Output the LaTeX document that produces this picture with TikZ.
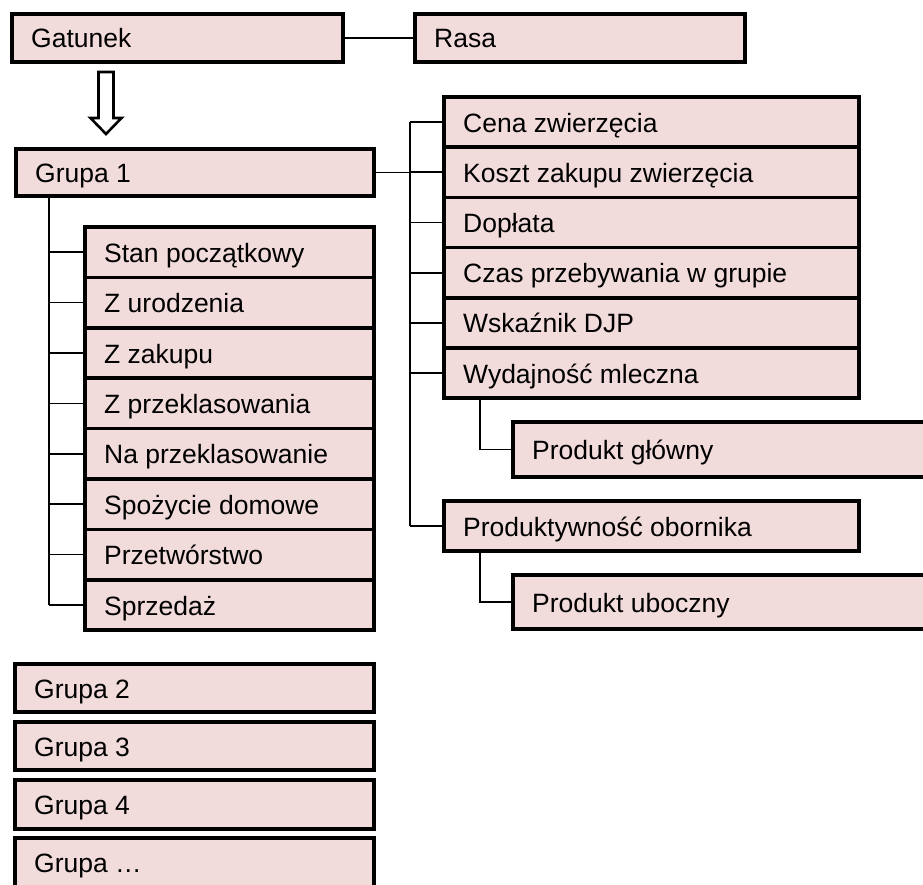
\documentclass[tikz,border=0pt]{standalone}
\usepackage{fontspec}
\setmainfont{Liberation Sans}
\definecolor{cellfill}{HTML}{F2DCDB}
\tikzset{
  cell/.style={draw=black, fill=cellfill, line width=3.6pt, rectangle,
    anchor=north west, outer sep=0pt, inner sep=0pt},
  celltext/.style={anchor=base west, inner sep=0pt,
    font=\fontsize{26.5}{30}\selectfont},
  wire/.style={draw=black, line width=1.6pt},
  hollowarrow/.style={draw=black, fill=white, line width=2.6pt, line join=miter}
}
% a box with its label set flush left: name, corner, width, height, text
\newcommand{\drawcell}[5]{%
  \node[cell, minimum width=#3pt, minimum height=#4pt] (#1) at (#2) {};
  \node[celltext] (#1-t) at ([xshift=19pt,yshift=-10pt]#1.west) {#5};
}
\begin{document}
\begin{tikzpicture}[x=1pt,y=-1pt]
\useasboundingbox (0,0) rectangle (923,885);
\clip (0,0) rectangle (923,885);

% top row
\drawcell{gat}{12,14}{331}{48}{Gatunek}
\drawcell{rasa}{415,14}{330}{48}{Rasa}
\draw[wire] (gat.east) -- (rasa.west);

% block arrow down to the first group
\draw[hollowarrow] (98.5,72) -- (113.5,72) -- (113.5,118) -- (121.5,118)
  -- (106,134) -- (90.5,118) -- (98.5,118) -- cycle;

\drawcell{g1}{16,149}{358}{47}{Grupa 1}

% left column: flows of the group
\drawcell{stan}{85,227.0}{289}{50.4}{Stan początkowy}
\drawcell{urod}{85,277.4}{289}{50.4}{Z urodzenia}
\drawcell{zak}{85,327.8}{289}{50.4}{Z zakupu}
\drawcell{zprz}{85,378.2}{289}{50.4}{Z przeklasowania}
\drawcell{naprz}{85,428.6}{289}{50.4}{Na przeklasowanie}
\drawcell{spoz}{85,479.0}{289}{50.4}{Spożycie domowe}
\drawcell{przet}{85,529.4}{289}{50.4}{Przetwórstwo}
\drawcell{sprz}{85,579.8}{289}{50.4}{Sprzedaż}

\coordinate (lt) at (49,0);
\draw[wire] (g1.south -| lt) -- (sprz.west -| lt);
\foreach \n in {stan,urod,zak,zprz,naprz,spoz,przet,sprz}
  \draw[wire] (\n.west -| lt) -- (\n.west);

% right column: parameters of the group
\drawcell{cena}{444,97.0}{415}{50.2}{Cena zwierzęcia}
\drawcell{koszt}{444,147.2}{415}{50.2}{Koszt zakupu zwierzęcia}
\drawcell{dopl}{444,197.4}{415}{50.2}{Dopłata}
\drawcell{czas}{444,247.6}{415}{50.2}{Czas przebywania w grupie}
\drawcell{wsk}{444,297.8}{415}{50.2}{Wskaźnik DJP}
\drawcell{wyd}{444,348.0}{415}{50.2}{Wydajność mleczna}
\drawcell{pglow}{513,422}{422}{55}{Produkt główny}
\drawcell{pobor}{444,501}{415}{50}{Produktywność obornika}
\drawcell{pubo}{513,575}{422}{54}{Produkt uboczny}

\coordinate (rt) at (410,0);
\coordinate (st) at (480,0);
\draw[wire] (g1.east) -- (g1.east -| rt);
\draw[wire] (cena.west -| rt) -- (pobor.west -| rt);
\foreach \n in {cena,koszt,dopl,czas,wsk,wyd,pobor}
  \draw[wire] (\n.west -| rt) -- (\n.west);
\draw[wire] (wyd.south -| st) -- (pglow.west -| st) -- (pglow.west);
\draw[wire] (pobor.south -| st) -- (pubo.west -| st) -- (pubo.west);

% remaining groups
\drawcell{g2}{15,664}{359}{48}{Grupa 2}
\drawcell{g3}{15,722}{359}{48}{Grupa 3}
\drawcell{g4}{15,780}{359}{49}{Grupa 4}
\drawcell{gn}{15,838}{359}{49}{Grupa …}
\end{tikzpicture}
\end{document}
